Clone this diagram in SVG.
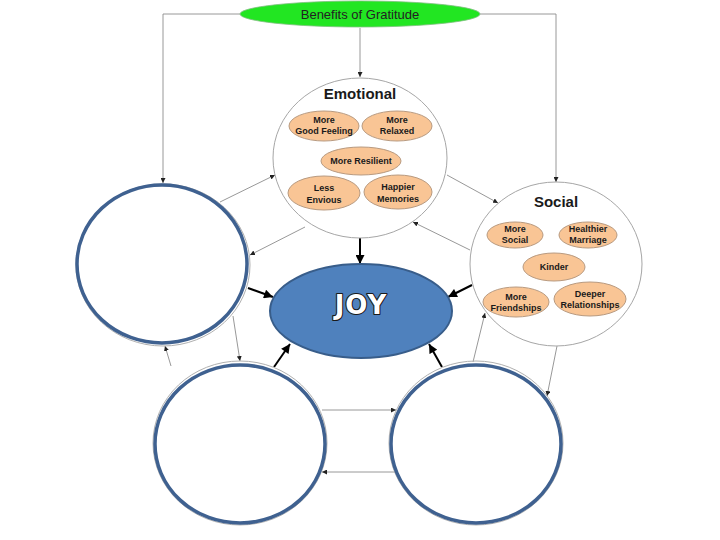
<svg xmlns="http://www.w3.org/2000/svg" width="720" height="540" viewBox="0 0 720 540">
<style>
.group{fill:#fff;stroke:#a6a6a6;stroke-width:1}
.pill{fill:#f9c595;stroke:#b89a80;stroke-width:1}
.ring{fill:#fff;stroke:#3f6190;stroke-width:3.5}
.halo{fill:none;stroke:#b0b0b0;stroke-width:1}
.thin{fill:none;stroke:#8c8c8c;stroke-width:0.9;marker-end:url(#sa)}
.thick{fill:none;stroke:#000;stroke-width:2;marker-end:url(#ba)}
.lab{font-family:"Liberation Sans",Arial,sans-serif;font-size:9px;font-weight:bold;fill:#1a1a1a;text-anchor:middle}
.title{font-family:"Liberation Sans",Arial,sans-serif;font-size:15px;font-weight:bold;fill:#1a1a1a;text-anchor:middle}
</style>
<defs>
<marker id="sa" viewBox="0 0 10 10" refX="10" refY="5" markerWidth="5" markerHeight="5" markerUnits="userSpaceOnUse" orient="auto"><path d="M0,0 L10,5 L0,10 z" fill="#222"/></marker>
<marker id="ba" viewBox="0 0 10 10" refX="10" refY="5" markerWidth="10" markerHeight="9" markerUnits="userSpaceOnUse" orient="auto"><path d="M0,0 L10,5 L0,10 z" fill="#000"/></marker>
</defs>
<rect width="720" height="540" fill="#fff"/>

<g id="connectors">
<path class="thin" d="M240,14 H163 V183"/>
<path class="thin" d="M480,14 H556 V182"/>
<path class="thin" d="M360,28 V77"/>
<path class="thin" d="M220,202 L275,175"/>
<path class="thin" d="M305,227 L250,255"/>
<path class="thin" d="M447,175 L498,203"/>
<path class="thin" d="M470,250 L413,222"/>
<path class="thin" d="M233,316 L240,361"/>
<path class="thin" d="M171,366 L165,346"/>
<path class="thin" d="M473,362 L485,313"/>
<path class="thin" d="M557,346 L547,396"/>
<path class="thin" d="M322,410 H396"/>
<path class="thin" d="M396,472 H322"/>
<path class="thick" d="M360,237 V264"/>
<path class="thick" d="M248,288 L273,297"/>
<path class="thick" d="M472,285 L448,297"/>
<path class="thick" d="M274,367 L290,344"/>
<path class="thick" d="M442,367 L429,344"/>
</g>

<g id="benefits">
<ellipse cx="360" cy="14" rx="120" ry="13" fill="#22e622" stroke="#7fbf7f" stroke-width="0.8"/>
<text x="360" y="19" font-family="Liberation Sans,Arial,sans-serif" font-size="13" fill="#222" text-anchor="middle">Benefits of Gratitude</text>
</g>

<g id="emotional">
<ellipse class="group" cx="360" cy="158" rx="87" ry="80"/>
<text class="title" x="360" y="99">Emotional</text>
<ellipse class="pill" cx="324" cy="126" rx="35" ry="15"/>
<text class="lab" x="324" y="123">More</text><text class="lab" x="324" y="134" font-weight="normal">Good Feeling</text>
<ellipse class="pill" cx="397" cy="126" rx="35" ry="15"/>
<text class="lab" x="397" y="123">More</text><text class="lab" x="397" y="134">Relaxed</text>
<ellipse class="pill" cx="361" cy="161" rx="40" ry="14"/>
<text class="lab" x="361" y="164">More Resilient</text>
<ellipse class="pill" cx="324" cy="193" rx="36" ry="17"/>
<text class="lab" x="324" y="191" font-weight="normal">Less</text><text class="lab" x="324" y="203">Envious</text>
<ellipse class="pill" cx="398" cy="192" rx="34" ry="17"/>
<text class="lab" x="398" y="190">Happier</text><text class="lab" x="398" y="202">Memories</text>
</g>

<g id="social">
<ellipse class="group" cx="556" cy="264" rx="86" ry="82"/>
<text class="title" x="556" y="207">Social</text>
<ellipse class="pill" cx="515" cy="235" rx="28" ry="13"/>
<text class="lab" x="515" y="232">More</text><text class="lab" x="515" y="243">Social</text>
<ellipse class="pill" cx="588" cy="235" rx="29" ry="13"/>
<text class="lab" x="588" y="232">Healthier</text><text class="lab" x="588" y="243">Marriage</text>
<ellipse class="pill" cx="554" cy="267" rx="31" ry="14"/>
<text class="lab" x="554" y="270">Kinder</text>
<ellipse class="pill" cx="516" cy="302" rx="33" ry="15"/>
<text class="lab" x="516" y="300">More</text><text class="lab" x="516" y="311">Friendships</text>
<ellipse class="pill" cx="590" cy="299" rx="36" ry="17"/>
<text class="lab" x="590" y="297">Deeper</text><text class="lab" x="590" y="308">Relationships</text>
</g>

<g id="left-circle">
<ellipse class="halo" cx="163" cy="265" rx="87" ry="81"/>
<ellipse class="ring" cx="162" cy="264" rx="85" ry="79"/>
</g>

<g id="bottom-left-circle">
<ellipse class="halo" cx="240" cy="443" rx="87" ry="82"/>
<ellipse class="ring" cx="240" cy="444" rx="85" ry="79"/>
</g>

<g id="bottom-right-circle">
<ellipse class="halo" cx="476" cy="443" rx="87" ry="82"/>
<ellipse class="ring" cx="476" cy="444" rx="85" ry="79"/>
</g>

<g id="joy">
<ellipse cx="361" cy="311" rx="91" ry="47" fill="#4f81bd" stroke="#385d8a" stroke-width="2"/>
<text x="361" y="314" font-family="DejaVu Sans,sans-serif" font-size="26" font-weight="bold" fill="#fff" stroke="#1a1a1a" stroke-width="2.2" paint-order="stroke" stroke-linejoin="round" text-anchor="middle" letter-spacing="1">JOY</text>
</g>
</svg>
